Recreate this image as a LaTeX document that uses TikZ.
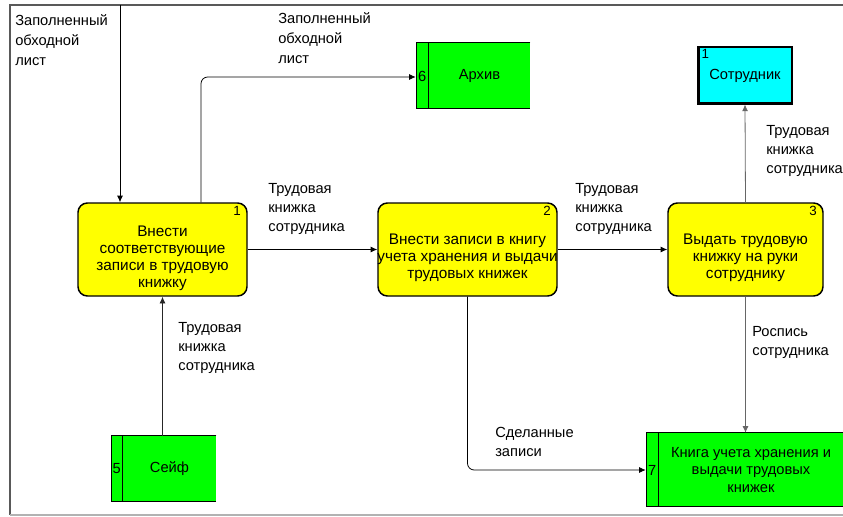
\documentclass[tikz,border=0pt]{standalone}
\usepackage{fontspec}
\setmainfont{Liberation Sans}
\usetikzlibrary{arrows.meta}

\definecolor{boxyellow}{RGB}{255,255,0}
\definecolor{storegreen}{RGB}{0,255,0}
\definecolor{extcyan}{RGB}{0,255,255}

\tikzset{
	work/.style={draw,line width=1.1pt,fill=boxyellow,rounded corners=7pt,inner sep=0,
		minimum width=#1*0.75pt,minimum height=93*0.75pt},
	worktext/.style={align=center,inner sep=0,font=\fontsize{11.5}{12.8}\selectfont},
	store/.style={fill=storegreen,align=center,inner sep=0},
	num/.style={inner sep=0,font=\fontsize{10}{11}\selectfont},
	snum/.style={inner sep=0,font=\fontsize{11}{12}\selectfont},
	lbl/.style={anchor=north west,align=left,inner sep=0,font=\fontsize{11}{14.3}\selectfont},
	arr/.style={-{Latex[length=5pt,width=4.5pt]},line width=0.6pt},
}

\begin{document}
\begin{tikzpicture}[x=0.75pt,y=-0.75pt,font=\fontsize{11}{12.8}\selectfont]
	\useasboundingbox (0,0) rectangle (843,517);
	% frame
	\draw[gray!70!black,line width=1pt] (843,5) -- (10,5) -- (10,515);
	\draw[gray!60,line width=1.2pt] (10,515) -- (843,515);

	% works
	\node[work=169] (w1) at (162.5,249.5) {};
	\node[work=179] (w2) at (467.5,249.5) {};
	\node[work=155] (w3) at (745.5,249.5) {};
	\node[worktext] (t1) at ([yshift=-6.5pt]w1.center) {Внести\\соответствующие\\записи в трудовую\\книжку};
	\node[worktext] (t2) at ([yshift=-6.5pt]w2.center) {Внести записи в книгу\\учета хранения и выдачи\\трудовых книжек};
	\node[worktext] (t3) at ([yshift=-6.5pt]w3.center) {Выдать трудовую\\книжку на руки\\сотруднику};
	\node[num,anchor=north east] at ([xshift=-5pt,yshift=-3pt]w1.north east) {1};
	\node[num,anchor=north east] at ([xshift=-5pt,yshift=-3pt]w2.north east) {2};
	\node[num,anchor=north east] at ([xshift=-5pt,yshift=-3pt]w3.north east) {3};

	% external
	\node[draw,line width=0.8pt,fill=extcyan,minimum width=94*0.75pt,minimum height=57*0.75pt] (emp) at (745,75.5) {Сотрудник};
	\draw[line width=2pt] ([xshift=1pt]emp.north west) -- ([xshift=1pt,yshift=1pt]emp.south west) -- ([yshift=1pt]emp.south east);
	\node[num,anchor=north west] at ([xshift=3pt,yshift=-2pt]emp.north west) {1};

	% stores
	\node[store,minimum width=101*0.75pt,minimum height=66*0.75pt] (arch) at (479.5,76) {Архив};
	\fill[storegreen] (arch.north west) rectangle ++(-13,66);
	\draw[thick] (arch.north east) -- ++(-114,0) -- ++(0,66) -- ++(114,0);
	\draw[thick] (arch.north west) -- (arch.south west);
	\node[snum] at ([xshift=-4.9pt]arch.west) {6};
	\coordinate (arch-in) at ([xshift=-9.75pt]arch.west);

	\node[store,minimum width=93*0.75pt,minimum height=66*0.75pt] (safe) at (169.5,469) {Сейф};
	\fill[storegreen] (safe.north west) rectangle ++(-12,66);
	\draw[thick] (safe.north east) -- ++(-105,0) -- ++(0,66) -- ++(105,0);
	\draw[thick] (safe.north west) -- (safe.south west);
	\node[snum] at ([xshift=-4.5pt]safe.west) {5};

	\node[store,minimum width=184*0.75pt,minimum height=74*0.75pt] (book) at (751,470) {Книга учета хранения и\\выдачи трудовых\\книжек};
	\fill[storegreen] (book.north west) rectangle ++(-13,74);
	\draw[thick] (book.north east) -- ++(-197,0) -- ++(0,74) -- ++(197,0);
	\draw[thick] (book.north west) -- (book.south west);
	\node[snum] at ([xshift=-4.9pt]book.west) {7};
	\coordinate (book-in) at ([xshift=-9.75pt]book.west);

	% connectors
	\coordinate (in1) at (120,5);
	\coordinate (c1) at (201,77);
	\draw[arr] (in1) -- (in1 |- w1.north);
	\draw[arr,rounded corners=5pt] (c1 |- w1.north) -- (c1) -- (arch-in |- c1);
	\draw[arr] (w1.east) -- (w2.west);
	\draw[arr] (w2.east) -- (w3.west);
	\draw[arr,gray!80!black] (w3.north) -- (emp.south);
	\draw[arr,gray!80!black] (w3.south) -- (w3.south |- book.north);
	\draw[arr,rounded corners=5pt] (w2.south) -- (w2.south |- book-in) -- (book-in);
	\draw[arr,gray!30!black] (w1.south |- safe.north) -- (w1.south);

	% labels
	\node[lbl,font=\fontsize{11}{15}\selectfont] (l0) at (15,14) {Заполненный\\обходной\\лист};
	\node[lbl,font=\fontsize{11}{15}\selectfont] (l1) at (278,12) {Заполненный\\обходной\\лист};
	\node[lbl] (l2) at (268,183) {Трудовая\\книжка\\сотрудника};
	\node[lbl] (l3) at (575,183) {Трудовая\\книжка\\сотрудника};
	\node[lbl] (l4) at (766,125) {Трудовая\\книжка\\сотрудника};
	\node[lbl] (l5) at (752,326) {Роспись\\сотрудника};
	\node[lbl] (l6) at (495,427) {Сделанные\\записи};
	\node[lbl] (l7) at (178,322) {Трудовая\\книжка\\сотрудника};
\end{tikzpicture}
\end{document}
